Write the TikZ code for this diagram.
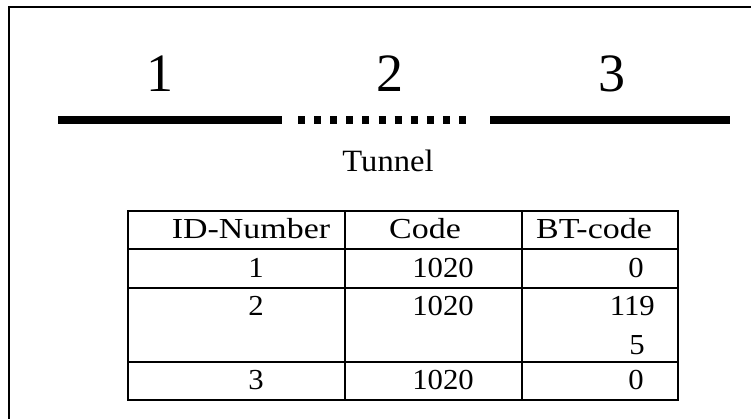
\documentclass[tikz,border=0pt]{standalone}
\usepackage{fontspec}
\setmainfont{Liberation Serif}
\begin{document}
\begin{tikzpicture}[x=1pt,y=-1pt,
  frame/.style={line width=2pt},
  track/.style={line width=8pt,line cap=butt},
  tunnelpart/.style={line width=8pt,line cap=butt,dash pattern=on 7pt off 9.1pt},
  grid/.style={line width=2pt},
  bignum/.style={inner sep=0pt,font=\fontsize{54}{54}\selectfont},
  caption/.style={inner sep=0pt,xscale=1.05,font=\fontsize{31}{31}\selectfont},
  headcell/.style={inner sep=0pt,xscale=1.17,font=\fontsize{29}{29}\selectfont},
  cell/.style={inner sep=0pt,xscale=1.06,font=\fontsize{29}{29}\selectfont}]
\useasboundingbox (0,0) rectangle (751,419);
\clip (0,0) rectangle (751,419);
% outer frame, running off the right and bottom edges
\draw[frame] (760,7) -- (9,7) -- (9,430);

% section numbers
\node[bignum,anchor=base] (n1) at (160,92) {1};
\node[bignum,anchor=base] (n2) at (390,92) {2};
\node[bignum,anchor=base] (n3) at (612,92) {3};

% track: open section, tunnel section, open section
\coordinate (a0) at (58,120);
\coordinate (a1) at (282,120);
\coordinate (t0) at (298,120);
\coordinate (t1) at (467,120);
\coordinate (b0) at (490,120);
\coordinate (b1) at (730,120);
\draw[track] (a0) -- (a1);
\draw[tunnelpart] (t0) -- (t1);
\draw[track] (b0) -- (b1);
\node[caption,anchor=base] (tun) at (388,172) {Tunnel};

% table grid
\coordinate (tl) at (128,211);
\coordinate (br) at (678,400);
\draw[grid] (tl) rectangle (br);
\draw[grid] (128,249) -- (678,249);
\draw[grid] (128,288) -- (678,288);
\draw[grid] (128,362) -- (678,362);
\draw[grid] (345,211) -- (345,400);
\draw[grid] (522,211) -- (522,400);

% header
\node[headcell,anchor=base] (h1) at (251,239) {ID-Number};
\node[headcell,anchor=base] (h2) at (425,239) {Code};
\node[headcell,anchor=base] (h3) at (594,239) {BT-code};

% rows
\node[cell,anchor=base east] (r1a) at (264,277) {1};
\node[cell,anchor=base east] (r1b) at (474,277) {1020};
\node[cell,anchor=base east] (r1c) at (644,277) {0};
\node[cell,anchor=base east] (r2a) at (264,315) {2};
\node[cell,anchor=base east] (r2b) at (474,315) {1020};
\node[cell,anchor=base east] (r2c) at (655,315) {119};
\node[cell,anchor=base east] (r2d) at (645,354) {5};
\node[cell,anchor=base east] (r3a) at (264,389) {3};
\node[cell,anchor=base east] (r3b) at (474,389) {1020};
\node[cell,anchor=base east] (r3c) at (644,389) {0};
\end{tikzpicture}
\end{document}
